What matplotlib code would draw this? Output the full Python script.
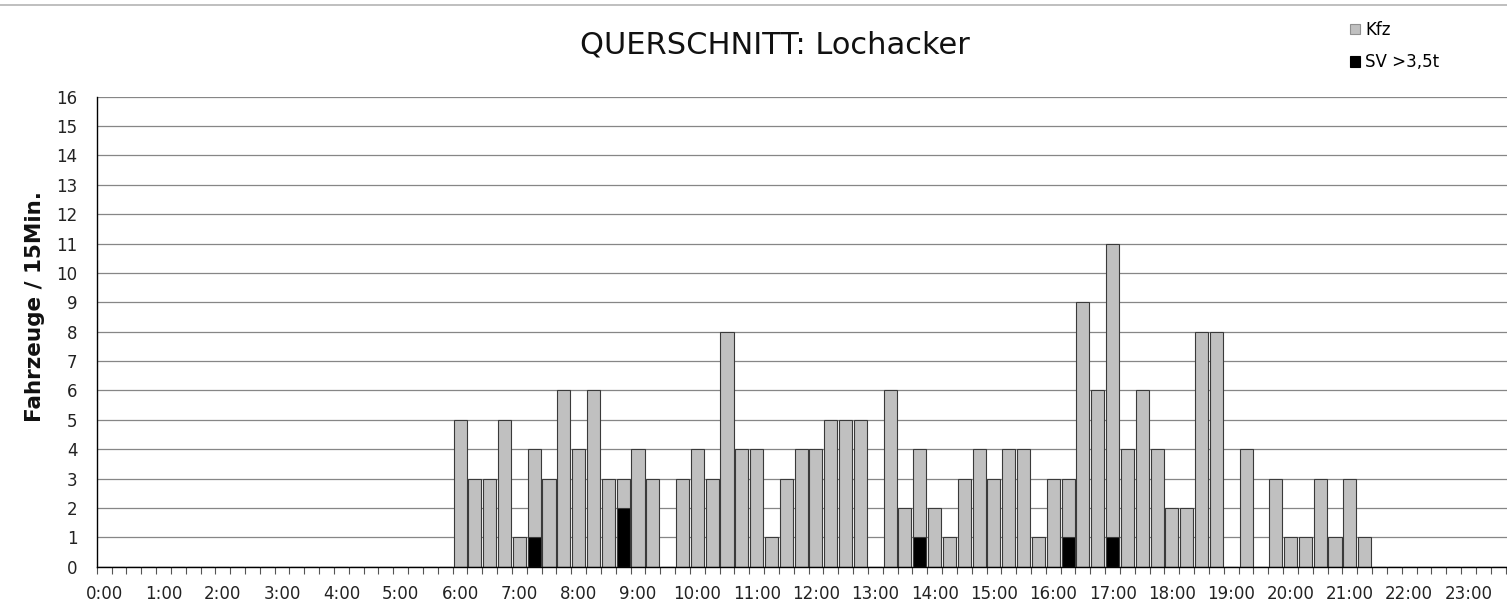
import matplotlib
matplotlib.use("Agg")
import matplotlib.pyplot as plt
from matplotlib.lines import Line2D
from matplotlib.patches import Patch

plt.rcParams['font.family'] = ['DejaVu Sans']

# 15-minute slots 0:00 ... 23:45
kfz = [0, 0, 0, 0, 0, 0, 0, 0, 0, 0, 0, 0,
       0, 0, 0, 0, 0, 0, 0, 0, 0, 0, 0, 0,
       5, 3, 3, 5, 1, 4, 3, 6, 4, 6, 3, 3,
       4, 3, 0, 3, 4, 3, 8, 4, 4, 1, 3, 4,
       4, 5, 5, 5, 0, 6, 2, 4, 2, 1, 3, 4,
       3, 4, 4, 1, 3, 3, 9, 6, 11, 4, 6, 4,
       2, 2, 8, 8, 0, 4, 0, 3, 1, 1, 3, 1,
       3, 1, 0, 0, 0, 0, 0, 0, 0, 0, 0, 0]
sv = [0, 0, 0, 0, 0, 0, 0, 0, 0, 0, 0, 0,
      0, 0, 0, 0, 0, 0, 0, 0, 0, 0, 0, 0,
      0, 0, 0, 0, 0, 1, 0, 0, 0, 0, 0, 2,
      0, 0, 0, 0, 0, 0, 0, 0, 0, 0, 0, 0,
      0, 0, 0, 0, 0, 0, 0, 1, 0, 0, 0, 0,
      0, 0, 0, 0, 0, 1, 0, 0, 1, 0, 0, 0,
      0, 0, 0, 0, 0, 0, 0, 0, 0, 0, 0, 0,
      0, 0, 0, 0, 0, 0, 0, 0, 0, 0, 0, 0]
hour_labels = ["0:00", "1:00", "2:00", "3:00", "4:00", "5:00", "6:00", "7:00",
               "8:00", "9:00", "10:00", "11:00", "12:00", "13:00", "14:00", "15:00",
               "16:00", "17:00", "18:00", "19:00", "20:00", "21:00", "22:00", "23:00"]

W, H = 1507, 611
fig = plt.figure(figsize=(W / 100, H / 100), dpi=100)
# plot area runs past the right edge of the picture like the original crop
ax = fig.add_axes([96.7 / W, (H - 566.7) / H, 1423.7 / W, 470 / H])

x = list(range(len(kfz)))
ax.bar(x, kfz, width=0.88, color='#c0c0c0', edgecolor='#3a3a3a', linewidth=0.8, zorder=2)
ax.bar(x, sv, width=0.88, color='#000000', edgecolor='#3a3a3a', linewidth=0.8, zorder=3)

ax.set_xlim(-0.5, len(kfz) - 0.5)
ax.set_ylim(0, 16)
ax.set_yticks(range(0, 17))
ax.tick_params(axis='y', length=0, pad=14, labelsize=12, labelcolor='#222222')

ax.set_xticks([i - 0.5 for i in range(len(kfz) + 1)])
ax.set_xticklabels([])
ax.tick_params(axis='x', which='major', length=5, width=0.8, color='#555555', direction='out')
ax.set_xticks([4 * i for i in range(len(hour_labels))], minor=True)
ax.set_xticklabels(hour_labels, minor=True)
ax.tick_params(axis='x', which='minor', length=0, pad=13, labelsize=12, labelcolor='#222222')

ax.yaxis.grid(True, color='#868686', linewidth=0.9)
ax.set_axisbelow(True)
for s in ['top', 'right']:
    ax.spines[s].set_visible(False)
ax.spines['left'].set_color('black')
ax.spines['bottom'].set_color('black')
ax.spines['left'].set_linewidth(1.0)
ax.spines['bottom'].set_linewidth(1.0)

fig.text(35 / W, 1 - 306 / H, "Fahrzeuge / 15Min.", rotation=90, ha='center', va='center',
         fontsize=15.5, fontweight='bold', color='#111111')
fig.text(775 / W, 1 - 45 / H, "QUERSCHNITT: Lochacker", ha='center', va='center',
         fontsize=22, color='#111111')

handles = [Patch(facecolor='#c0c0c0', edgecolor='#909090', linewidth=0.8),
           Patch(facecolor='#000000', edgecolor='#000000', linewidth=0.8)]
fig.legend(handles, ["Kfz", "SV >3,5t"], loc='upper left', bbox_to_anchor=(1350 / W, 1 - 21 / H),
           frameon=False, fontsize=12, handlelength=0.6, handleheight=0.6,
           handletextpad=0.3, labelspacing=0.85, borderpad=0, borderaxespad=0)

fig.add_artist(Line2D([0, 1], [1 - 4.7 / H, 1 - 4.7 / H], color='#b4b4b4', linewidth=1.2))

fig.savefig("out.png", dpi=100)
